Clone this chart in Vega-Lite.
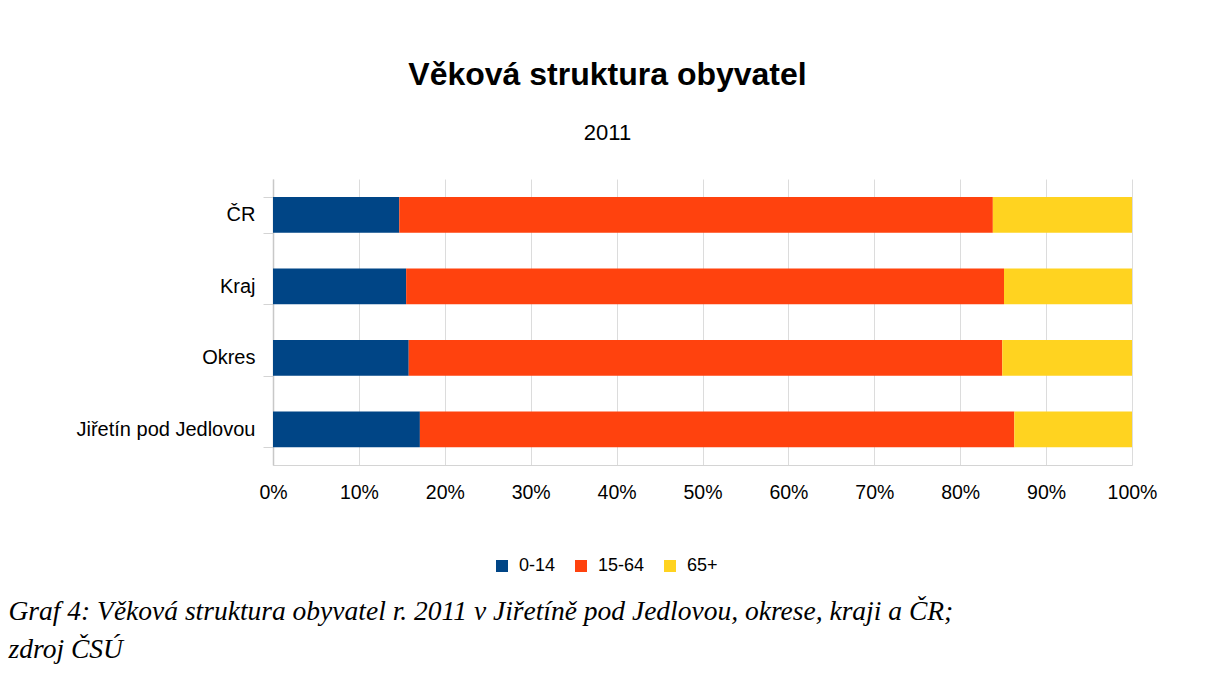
{
  "$schema": "https://vega.github.io/schema/vega-lite/v6.json",
  "autosize": {"type": "none"},
  "padding": {"left": 273, "top": 179, "right": 74, "bottom": 230},
  "width": 859,
  "height": 286,
  "background": "white",
  "title": {
    "text": "Věková struktura obyvatel",
    "subtitle": "2011",
    "anchor": "middle",
    "frame": "group",
    "dx": -95,
    "offset": 24,
    "font": "Liberation Sans",
    "fontSize": 32,
    "fontWeight": "bold",
    "color": "black",
    "subtitleFont": "Liberation Sans",
    "subtitleFontSize": 22,
    "subtitleColor": "black",
    "subtitlePadding": 31
  },
  "data": {
    "values": [
      {"oblast": "ČR", "vek": "0-14", "podil": 14.7},
      {"oblast": "ČR", "vek": "15-64", "podil": 69.1},
      {"oblast": "ČR", "vek": "65+", "podil": 16.2},
      {"oblast": "Kraj", "vek": "0-14", "podil": 15.5},
      {"oblast": "Kraj", "vek": "15-64", "podil": 69.6},
      {"oblast": "Kraj", "vek": "65+", "podil": 14.9},
      {"oblast": "Okres", "vek": "0-14", "podil": 15.8},
      {"oblast": "Okres", "vek": "15-64", "podil": 69.1},
      {"oblast": "Okres", "vek": "65+", "podil": 15.1},
      {"oblast": "Jiřetín pod Jedlovou", "vek": "0-14", "podil": 17.1},
      {"oblast": "Jiřetín pod Jedlovou", "vek": "15-64", "podil": 69.2},
      {"oblast": "Jiřetín pod Jedlovou", "vek": "65+", "podil": 13.7}
    ]
  },
  "mark": {"type": "bar"},
  "encoding": {
    "y": {
      "field": "oblast",
      "type": "nominal",
      "sort": null,
      "scale": {"paddingInner": 0.5, "paddingOuter": 0.25},
      "axis": {
        "title": null,
        "tickBand": "extent",
        "tickSize": 10,
        "tickColor": "#d4d4d4",
        "domainColor": "#c8c8c8",
        "domainWidth": 1.5,
        "labelFont": "Liberation Sans",
        "labelFontSize": 20,
        "labelColor": "black",
        "labelPadding": 8,
        "grid": false
      }
    },
    "x": {
      "field": "podil",
      "type": "quantitative",
      "stack": "normalize",
      "scale": {"domain": [0, 1], "nice": false},
      "axis": {
        "format": ".0%",
        "values": [0, 0.1, 0.2, 0.3, 0.4, 0.5, 0.6, 0.7, 0.8, 0.9, 1],
        "ticks": false,
        "grid": true,
        "gridColor": "#dcdcdc",
        "domainColor": "#d4d4d4",
        "labelFlush": false,
        "labelBound": false,
        "labelOverlap": false,
        "labelFont": "Liberation Sans",
        "labelFontSize": 19.5,
        "labelColor": "black",
        "labelPadding": 18,
        "title": ["Graf 4: Věková struktura obyvatel r. 2011 v Jiřetíně pod Jedlovou, okrese, kraji a ČR;", "zdroj ČSÚ"],
        "titleFont": "Liberation Serif",
        "titleFontStyle": "italic",
        "titleFontWeight": "normal",
        "titleFontSize": 27.5,
        "titleColor": "black",
        "titleAlign": "left",
        "titleAnchor": "start",
        "titleBaseline": "alphabetic",
        "titleLineHeight": 38,
        "titleX": -265,
        "titleY": 154
      }
    },
    "color": {
      "field": "vek",
      "type": "nominal",
      "scale": {"domain": ["0-14", "15-64", "65+"], "range": ["#004586", "#ff420e", "#ffd320"]},
      "legend": {
        "title": null,
        "orient": "none",
        "direction": "horizontal",
        "legendX": 220,
        "legendY": 378,
        "padding": 0,
        "symbolType": "square",
        "symbolSize": 144,
        "symbolStrokeWidth": 0,
        "labelFont": "Liberation Sans",
        "labelFontSize": 18,
        "labelColor": "black",
        "labelOffset": 8,
        "columnPadding": 16
      }
    },
    "order": {"field": "vek", "sort": "ascending"}
  },
  "config": {
    "view": {"stroke": null}
  }
}
